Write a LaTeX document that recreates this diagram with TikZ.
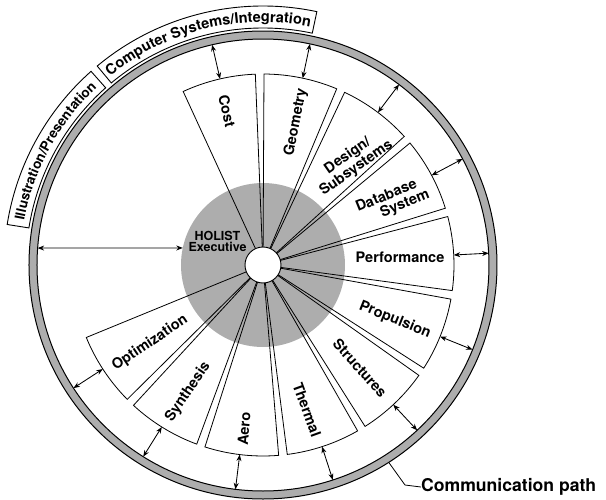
\documentclass[tikz,border=0pt]{standalone}
\usepackage{fontspec}
\setmainfont{TeX Gyre Heros}
\usetikzlibrary{arrows.meta,decorations.text}
\newcommand\arcfontA{\bfseries\fontsize{14.6}{15}\selectfont}
\newcommand\arcfontB{\bfseries\fontsize{13.5}{14}\selectfont}
\begin{document}
\begin{tikzpicture}[x=1pt,y=1pt,
  lab/.style={font=\bfseries\fontsize{14.5}{15}\selectfont, inner sep=0pt, align=center},
  sectorline/.style={draw=black, line width=0.8pt, line join=miter},
  biarrow/.style={{Stealth[length=6.5pt,width=5pt]}-{Stealth[length=6.5pt,width=5pt]}, line width=0.85pt},
  shadefill/.style={fill=black!32},
  boxline/.style={draw=black, line width=0.9pt}
]
\useasboundingbox (-263,-234) rectangle (343,265);
% communication ring
\path[shadefill, draw=black, line width=1pt, even odd rule]
  (0,0) circle[radius=234pt] (0,0) circle[radius=226pt];
% outer label boxes
\draw[boxline] (129.8:237pt) arc[start angle=129.8, end angle=78, radius=237pt]
  -- (78:259pt) arc[start angle=78, end angle=129.8, radius=259pt] -- cycle;
\draw[boxline] (171:237pt) arc[start angle=171, end angle=131.6, radius=237pt]
  -- (131.6:259pt) arc[start angle=131.6, end angle=171, radius=259pt] -- cycle;
\begin{scope}
\arcfontA
\path[decorate, decoration={text along path, text align=center,
  text={Computer Systems/Integration}}]
  (129.8:243pt) arc[start angle=129.8, end angle=78, radius=243pt];
\end{scope}
\begin{scope}
\arcfontB
\path[decorate, decoration={text along path, text align=center,
  text={Illustration/Presentation}}]
  (171:243pt) arc[start angle=171, end angle=131.6, radius=243pt];
\end{scope}
% executive disk
\path[shadefill] (0,0) circle[radius=82pt];
% sectors
\foreach \k in {0,...,10} {
  \pgfmathsetmacro{\c}{103.5-25*\k}
  \pgfmathsetmacro{\a}{\c+11.2}
  \pgfmathsetmacro{\b}{\c-11.2}
  \pgfmathsetmacro{\m}{\c-0.5}
  \draw[sectorline] (0,0) -- (\a:191pt) arc[start angle=\a, end angle=\b, radius=191pt] -- cycle;
  \coordinate (s\k) at (\m:191pt);
  \coordinate (r\k) at (\m:226pt);
}
\node[draw=black, fill=white, line width=0.9pt, circle, minimum size=36pt, inner sep=0pt] (hub) at (0,0) {};
% connectors between modules and the communication path
\foreach \k in {0,...,10} { \draw[biarrow] (s\k) -- (r\k); }
\coordinate (illA) at (175.7:226pt);
\coordinate (illB) at (168:82pt);
\draw[biarrow] (illA) -- (illB);
% module labels
\node[lab, rotate=-77] (cost) at (-36,154) {Cost};
\node[lab, rotate=79] (geom) at (33,143) {Geometry};
\node[lab, rotate=35] (design) at (89,103) {Design/\\Subsystems};
\node[lab, rotate=22] (dbA) at (123,70) {Database};
\node[lab, rotate=22] (dbB) at (142,61) {System};
\node[lab] (perf) at (137,8) {Performance};
\node[lab, rotate=-22] (prop) at (132,-55) {Propulsion};
\node[lab, rotate=-48] (struct) at (97,-103) {Structures};
\node[lab, rotate=-70] (therm) at (44,-145) {Thermal};
\node[lab, rotate=85] (aero) at (-19,-164) {Aero};
\node[lab, rotate=56] (synth) at (-75,-127) {Synthesis};
\node[lab, rotate=34] (optim) at (-113,-78) {Optimization};
\node[font=\bfseries\fontsize{12.5}{11}\selectfont, align=center, inner sep=0pt] (holist) at (-45.5,23.5) {HOLIST\\Executive};
% communication path label
\coordinate (cpA) at (-57.5:234pt);
\coordinate (cpB) at (142,-220);
\node[font=\bfseries\fontsize{17.6}{18}\selectfont, anchor=west, inner sep=0pt] (cp) at (158,-222) {Communication path};
\draw[line width=0.8pt] (cpA) -- (cpB) -- (cp.west);
\end{tikzpicture}
\end{document}
